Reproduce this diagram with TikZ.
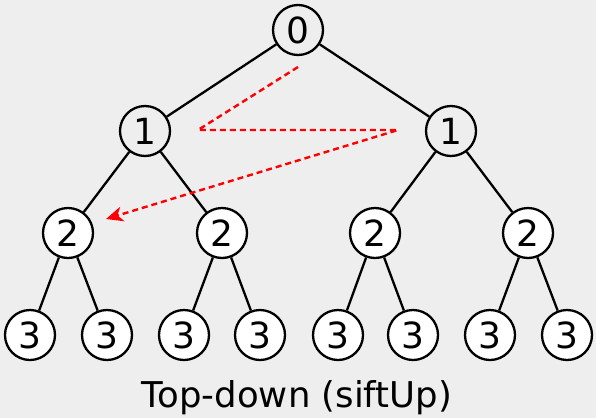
\documentclass[tikz,border=0pt]{standalone}
\usepackage{fontspec}
\setmainfont{DejaVu Sans}
\usetikzlibrary{arrows.meta}
\definecolor{bggray}{HTML}{EEEEEE}
\begin{document}
\begin{tikzpicture}[x=1pt,y=-1pt,
  heapnode/.style={circle,draw=black,line width=2.3pt,minimum size=50pt,inner sep=0pt,
    font=\fontsize{36}{42}\selectfont},
  leafnode/.style={heapnode,fill=white},
  edge/.style={draw=black,line width=2.3pt},
  trace/.style={draw=red,line width=2.4pt,dash pattern=on 6pt off 4pt,
    -{Stealth[length=17pt,width=15pt,inset=5pt]}}]
  % canvas
  \fill[bggray] (0,0) rectangle (596,418);
  \useasboundingbox (0,0) rectangle (596,418);

  % levels 0 and 1
  \node[heapnode] (n0) at (298,30) {0};
  \node[heapnode] (n1a) at (145,131) {1};
  \node[heapnode] (n1b) at (451,131) {1};
  % level 2
  \node[leafnode] (n2a) at (68,233) {2};
  \node[leafnode] (n2b) at (222,233) {2};
  \node[leafnode] (n2c) at (375,233) {2};
  \node[leafnode] (n2d) at (528,233) {2};
  % level 3
  \node[leafnode] (n3a) at (30,335) {3};
  \node[leafnode] (n3b) at (107,335) {3};
  \node[leafnode] (n3c) at (184,335) {3};
  \node[leafnode] (n3d) at (260,335) {3};
  \node[leafnode] (n3e) at (338,335) {3};
  \node[leafnode] (n3f) at (413,335) {3};
  \node[leafnode] (n3g) at (490,335) {3};
  \node[leafnode] (n3h) at (567,335) {3};

  % tree edges
  \draw[edge] (n0) -- (n1a);
  \draw[edge] (n0) -- (n1b);
  \draw[edge] (n1a) -- (n2a);
  \draw[edge] (n1a) -- (n2b);
  \draw[edge] (n1b) -- (n2c);
  \draw[edge] (n1b) -- (n2d);
  \draw[edge] (n2a) -- (n3a);
  \draw[edge] (n2a) -- (n3b);
  \draw[edge] (n2b) -- (n3c);
  \draw[edge] (n2b) -- (n3d);
  \draw[edge] (n2c) -- (n3e);
  \draw[edge] (n2c) -- (n3f);
  \draw[edge] (n2d) -- (n3g);
  \draw[edge] (n2d) -- (n3h);

  % order of insertion
  \coordinate (t0) at (298,67);
  \coordinate (t1) at (198,130);
  \coordinate (t2) at (398,130);
  \coordinate (t3) at (106,219);
  \draw[trace] (t0) -- (t1) -- (t2) -- (t3);

  % caption
  \node[font=\fontsize{35.5}{42}\selectfont,anchor=base] (cap) at (297,407) {Top-down (siftUp)};
\end{tikzpicture}
\end{document}
